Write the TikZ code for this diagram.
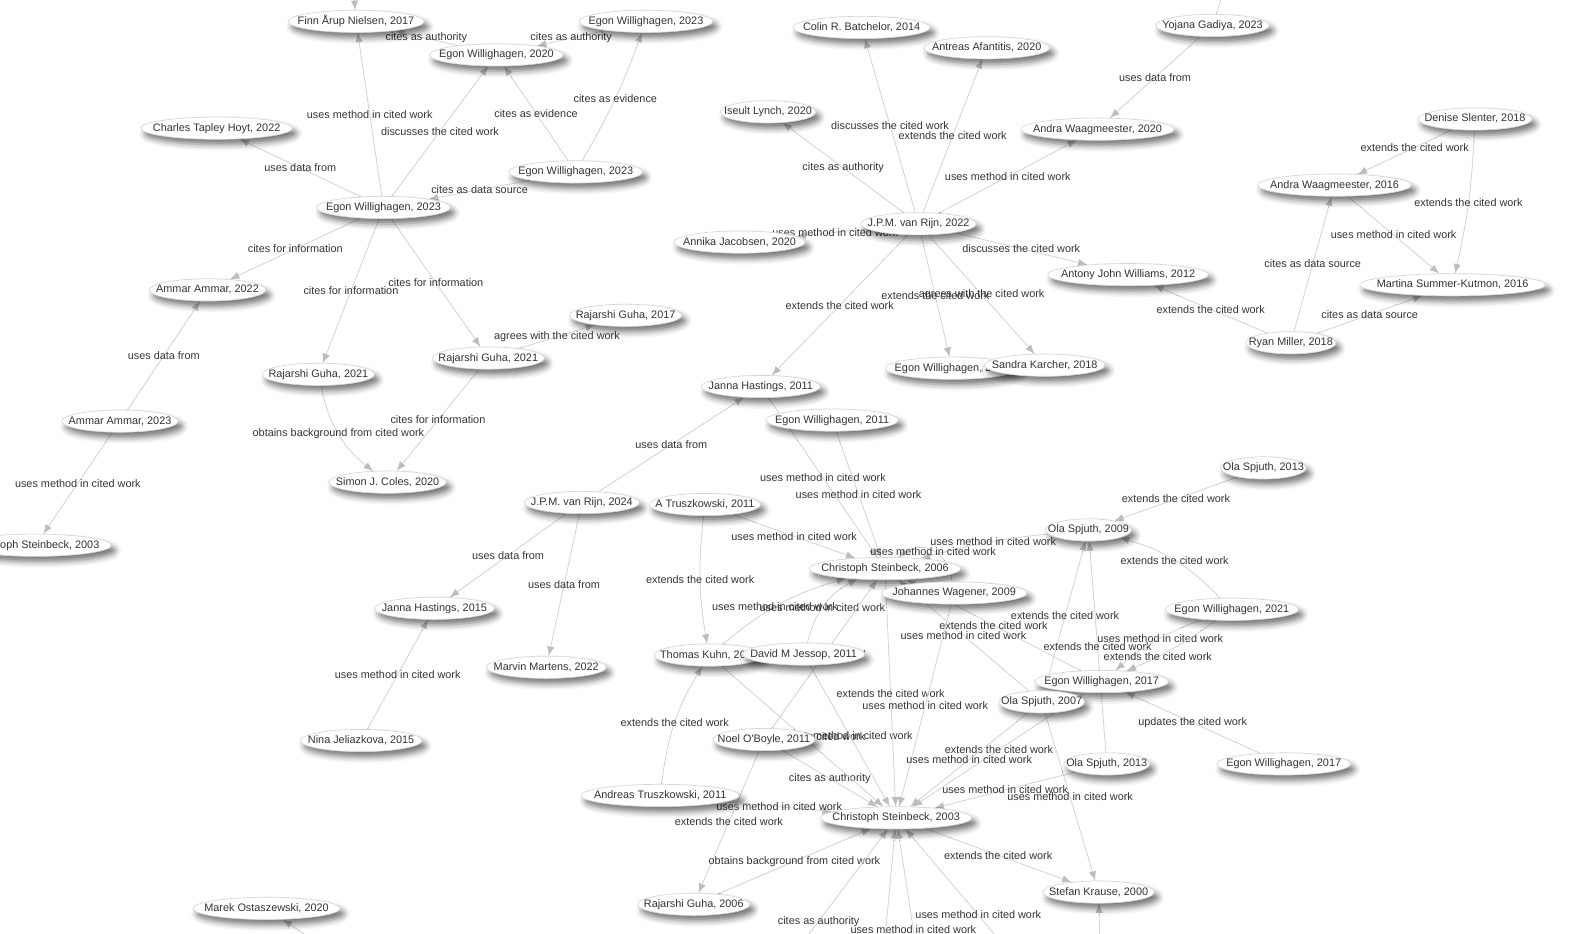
\documentclass[tikz,border=0pt]{standalone}
\usepackage{fontspec}
\setmainfont{Liberation Sans}
\usetikzlibrary{shapes.geometric,arrows.meta,backgrounds,shadows.blur}
\definecolor{txt}{HTML}{343434}
\definecolor{edg}{HTML}{D2D2D2}
\definecolor{arr}{HTML}{BDBDBD}
\definecolor{bord}{HTML}{D6D6D6}
\begin{document}
\begin{tikzpicture}[->,>={Latex[length=7pt,width=5.5pt,color=arr]},x=0.763pt,y=-0.763pt]
\tikzset{PaperStyle/.style = {ellipse,draw=bord,line width=0.5pt,fill=white,text=txt,
  font=\fontsize{8.15}{9}\selectfont,inner xsep=-7.6pt,inner ysep=2.1pt,text height=6pt,text depth=1.6pt,
  blur shadow={shadow xshift=3pt,shadow yshift=-4pt,shadow blur radius=4.5pt,shadow opacity=55}}}
\tikzset{LabelStyle/.style = {text=txt,font=\fontsize{8.15}{9}\selectfont,inner sep=0pt}}
\tikzset{EdgeStyle/.style = {draw=edg,line width=0.6pt}}
\useasboundingbox (0,0) rectangle (1568,918);
\node[PaperStyle] (fin17) at (350,21) {Finn Årup Nielsen, 2017};
\node[PaperStyle] (ew20) at (488,54) {Egon Willighagen, 2020};
\node[PaperStyle] (ew23a) at (635,21) {Egon Willighagen, 2023};
\node[PaperStyle] (cth22) at (213,126) {Charles Tapley Hoyt, 2022};
\node[PaperStyle] (ew23b) at (566,169) {Egon Willighagen, 2023};
\node[PaperStyle] (ew23c) at (377,204) {Egon Willighagen, 2023};
\node[PaperStyle] (aa22) at (204,285) {Ammar Ammar, 2022};
\node[PaperStyle] (rg17) at (615,310) {Rajarshi Guha, 2017};
\node[PaperStyle] (rg21a) at (313,368) {Rajarshi Guha, 2021};
\node[PaperStyle] (rg21b) at (480,352) {Rajarshi Guha, 2021};
\node[PaperStyle] (aa23) at (118,414) {Ammar Ammar, 2023};
\node[PaperStyle] (sjc20) at (381,474) {Simon J. Coles, 2020};
\node[PaperStyle] (cs03a) at (35,536) {Christoph Steinbeck, 2003};
\node[PaperStyle] (crb14) at (847,27) {Colin R. Batchelor, 2014};
\node[PaperStyle] (aaf20) at (970,47) {Antreas Afantitis, 2020};
\node[PaperStyle] (yg23) at (1192,25) {Yojana Gadiya, 2023};
\node[PaperStyle] (il20) at (755,110) {Iseult Lynch, 2020};
\node[PaperStyle] (aw20) at (1079,127) {Andra Waagmeester, 2020};
\node[PaperStyle] (ds18) at (1450,117) {Denise Slenter, 2018};
\node[PaperStyle] (aw16) at (1312,182) {Andra Waagmeester, 2016};
\node[PaperStyle] (jvr22) at (903,220) {J.P.M. van Rijn, 2022};
\node[PaperStyle] (aj20) at (727,238) {Annika Jacobsen, 2020};
\node[PaperStyle] (ajw12) at (1109,270) {Antony John Williams, 2012};
\node[PaperStyle] (msk16) at (1428,280) {Martina Summer-Kutmon, 2016};
\node[PaperStyle] (rm18) at (1269,337) {Ryan Miller, 2018};
\node[PaperStyle] (ew19) at (936,362) {Egon Willighagen, 2019};
\node[PaperStyle] (sk18) at (1027,359) {Sandra Karcher, 2018};
\node[PaperStyle] (jh11) at (748,380) {Janna Hastings, 2011};
\node[PaperStyle] (ew11) at (818,413) {Egon Willighagen, 2011};
\node[PaperStyle] (os13a) at (1242,460) {Ola Spjuth, 2013};
\node[PaperStyle] (jvr24) at (572,494) {J.P.M. van Rijn, 2024};
\node[PaperStyle] (at11) at (693,496) {A Truszkowski, 2011};
\node[PaperStyle] (os09) at (1070,521) {Ola Spjuth, 2009};
\node[PaperStyle] (cs06) at (870,559) {Christoph Steinbeck, 2006};
\node[PaperStyle] (jw09) at (938,583) {Johannes Wagener, 2009};
\node[PaperStyle] (jh15) at (427,598) {Janna Hastings, 2015};
\node[PaperStyle] (ew21) at (1211,599) {Egon Willighagen, 2021};
\node[PaperStyle] (tk08) at (697,644) {Thomas Kuhn, 2008};
\node[PaperStyle] (dmj11) at (790,643) {David M Jessop, 2011};
\node[PaperStyle] (mm22) at (537,656) {Marvin Martens, 2022};
\node[PaperStyle] (ew17a) at (1083,670) {Egon Willighagen, 2017};
\node[PaperStyle] (os07) at (1024,690) {Ola Spjuth, 2007};
\node[PaperStyle] (nj15) at (355,728) {Nina Jeliazkova, 2015};
\node[PaperStyle] (nob11) at (751,727) {Noel O\textquotesingle Boyle, 2011};
\node[PaperStyle] (os13b) at (1088,751) {Ola Spjuth, 2013};
\node[PaperStyle] (ew17b) at (1262,751) {Egon Willighagen, 2017};
\node[PaperStyle] (at11b) at (649,782) {Andreas Truszkowski, 2011};
\node[PaperStyle] (cs03) at (881,804) {Christoph Steinbeck, 2003};
\node[PaperStyle] (sk00) at (1080,877) {Stefan Krause, 2000};
\node[PaperStyle] (rg06) at (682,889) {Rajarshi Guha, 2006};
\node[PaperStyle] (mo20) at (262,893) {Marek Ostaszewski, 2020};
\coordinate (tf) at (345,-45);
\coordinate (ty) at (1215,-45);
\coordinate (b1) at (737,996);
\coordinate (b2) at (913,1012);
\coordinate (b3) at (1033,984);
\coordinate (b4) at (862,1010);
\coordinate (b5) at (1083,1000);
\coordinate (b6) at (360,960);
\begin{scope}[on background layer]
\begin{scope}[every path/.style=EdgeStyle]
\draw (tf) -- (fin17);
\draw (ew23c) -- (fin17) node [LabelStyle,midway] {uses method in cited work};
\draw (ew23c) -- (ew20) node [LabelStyle,midway] {discusses the cited work};
\draw (ew23c) -- (cth22) node [LabelStyle,midway] {uses data from};
\draw (ew23b) -- (ew23c) node [LabelStyle,midway] {cites as data source};
\draw (ew23b) -- (ew20) node [LabelStyle,midway] {cites as evidence};
\draw (ew23b) to[bend right=5] node [LabelStyle,midway] {cites as evidence} (ew23a);
\draw (ew20) -- (fin17) node [LabelStyle,midway] {cites as authority};
\draw (ew23a) -- (ew20) node [LabelStyle,midway] {cites as authority};
\draw (ew23c) -- (aa22) node [LabelStyle,midway] {cites for information};
\draw (ew23c) -- (rg21a) node [LabelStyle,midway] {cites for information};
\draw (ew23c) -- (rg21b) node [LabelStyle,midway] {cites for information};
\draw (rg21b) -- (rg17) node [LabelStyle,midway] {agrees with the cited work};
\draw (rg21a) to[bend right=20] node [LabelStyle,midway] {obtains background from cited work} (sjc20);
\draw (rg21b) -- (sjc20) node [LabelStyle,midway] {cites for information};
\draw (aa23) -- (aa22) node [LabelStyle,midway] {uses data from};
\draw (aa23) -- (cs03a) node [LabelStyle,midway] {uses method in cited work};
\draw (yg23) -- (ty);
\draw (jvr22) -- (crb14) node [LabelStyle,midway] {discusses the cited work};
\draw (jvr22) -- (aaf20) node [LabelStyle,midway] {extends the cited work};
\draw (jvr22) -- (il20) node [LabelStyle,midway] {cites as authority};
\draw (jvr22) -- (aw20) node [LabelStyle,midway] {uses method in cited work};
\draw (jvr22) -- (aj20) node [LabelStyle,pos=0.45] {uses method in cited work};
\draw (jvr22) -- (ajw12) node [LabelStyle,midway] {discusses the cited work};
\draw (jvr22) -- (ew19) node [LabelStyle,midway] {extends the cited work};
\draw (jvr22) -- (sk18) node [LabelStyle,midway] {agrees with the cited work};
\draw (jvr22) -- (jh11) node [LabelStyle,midway] {extends the cited work};
\draw (yg23) -- (aw20) node [LabelStyle,midway] {uses data from};
\draw (ds18) -- (aw16) node [LabelStyle,pos=0.4] {extends the cited work};
\draw (ds18) to[bend left=5] node [LabelStyle,midway] {extends the cited work} (msk16);
\draw (aw16) -- (msk16) node [LabelStyle,midway] {uses method in cited work};
\draw (rm18) -- (aw16) node [LabelStyle,midway] {cites as data source};
\draw (rm18) -- (msk16) node [LabelStyle,midway] {cites as data source};
\draw (rm18) -- (ajw12) node [LabelStyle,midway] {extends the cited work};
\draw (jvr24) -- (jh11) node [LabelStyle,midway] {uses data from};
\draw (jvr24) -- (jh15) node [LabelStyle,midway] {uses data from};
\draw (jvr24) -- (mm22) node [LabelStyle,midway] {uses data from};
\draw (nj15) -- (jh15) node [LabelStyle,midway] {uses method in cited work};
\draw (jh11) -- (cs06) node [LabelStyle,midway] {uses method in cited work};
\draw (ew11) -- (cs06) node [LabelStyle,midway] {uses method in cited work};
\draw (at11) -- (cs06) node [LabelStyle,midway] {uses method in cited work};
\draw (os09) to[bend right=5] node [LabelStyle,pos=0.42] {uses method in cited work} (cs06);
\draw (jw09) to[bend right=60,looseness=1.3] node [LabelStyle,midway] {uses method in cited work} (cs06);
\draw (at11) to[bend right=8] node [LabelStyle,midway] {extends the cited work} (tk08);
\draw (tk08) to[bend left=12] node [LabelStyle,pos=0.45] {uses method in cited work} (cs06);
\draw (dmj11) to[bend left=25] node [LabelStyle,pos=0.45] {uses method in cited work} (cs06);
\draw (nob11) -- (cs06) node [LabelStyle,midway] {cites as authority};
\draw (os07) -- (cs06) node [LabelStyle,midway] {uses method in cited work};
\draw (ew17a) -- (cs06) node [LabelStyle,midway] {extends the cited work};
\draw (os13a) -- (os09) node [LabelStyle,midway] {extends the cited work};
\draw (ew21) to[bend right=15] node [LabelStyle,midway] {extends the cited work} (os09);
\draw (os07) -- (os09) node [LabelStyle,midway] {extends the cited work};
\draw (os13b) -- (os09) node [LabelStyle,midway] {extends the cited work};
\draw (ew21) to[bend right=10] node [LabelStyle,pos=0.45] {uses method in cited work} (ew17a);
\draw (ew21) to[bend left=6] node [LabelStyle,pos=0.68] {extends the cited work} (ew17a);
\draw (ew17b) -- (ew17a) node [LabelStyle,midway] {updates the cited work};
\draw (os13b) -- (cs03) node [LabelStyle,midway] {uses method in cited work};
\draw (os07) -- (sk00) node [LabelStyle,midway] {uses method in cited work};
\draw (cs03) -- (sk00) node [LabelStyle,midway] {extends the cited work};
\draw (b5) -- (sk00);
\draw (at11b) to[bend left=12] node [LabelStyle,midway] {extends the cited work} (tk08);
\draw (at11b) -- (cs03) node [LabelStyle,midway] {uses method in cited work};
\draw (nob11) -- (cs03) node [LabelStyle,midway] {cites as authority};
\draw (tk08) -- (cs03) node [LabelStyle,midway] {uses method in cited work};
\draw (dmj11) -- (cs03) node [LabelStyle,midway] {uses method in cited work};
\draw (cs06) -- (cs03) node [LabelStyle,midway] {extends the cited work};
\draw (jw09) -- (cs03) node [LabelStyle,midway] {uses method in cited work};
\draw (ew17a) -- (cs03) node [LabelStyle,midway] {extends the cited work};
\draw (os07) -- (cs03) node [LabelStyle,midway] {uses method in cited work};
\draw (nob11) -- (rg06) node [LabelStyle,midway] {extends the cited work};
\draw (rg06) -- (cs03) node [LabelStyle,midway] {obtains background from cited work};
\draw (b1) -- (cs03) node [LabelStyle,midway] {cites as authority};
\draw (b2) -- (cs03) node [LabelStyle,midway] {uses method in cited work};
\draw (b3) -- (cs03) node [LabelStyle,midway] {uses method in cited work};
\draw (b4) -- (cs03);
\draw (b6) -- (mo20);
\end{scope}
\end{scope}
\end{tikzpicture}
\end{document}
